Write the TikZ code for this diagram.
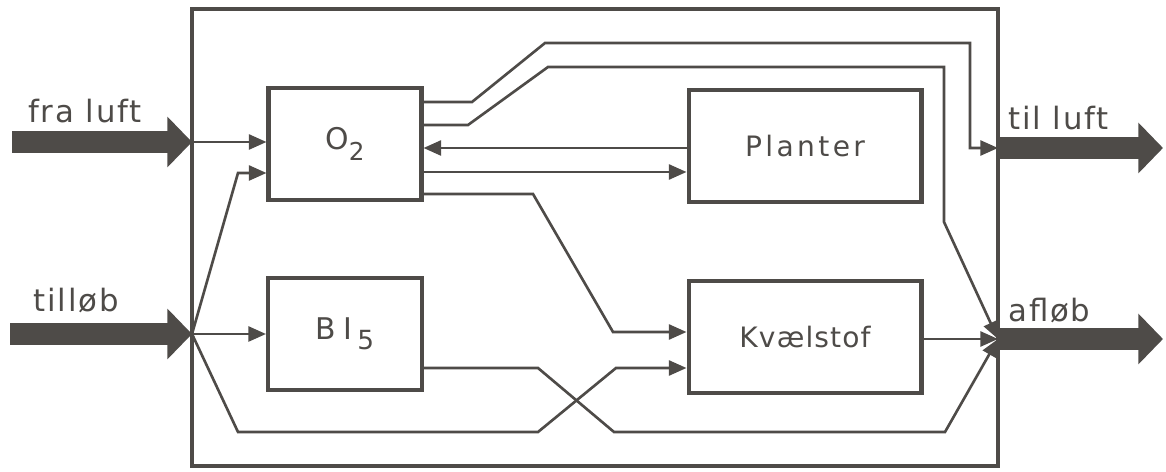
\documentclass[tikz,border=0pt]{standalone}
\usepackage{fontspec}
\setmainfont{DejaVu Sans}
\usetikzlibrary{arrows.meta, positioning, calc}
\definecolor{ink}{RGB}{78,75,72}

\begin{document}
\begin{tikzpicture}[x=0.02cm, y=-0.02cm, >={Triangle[length=10pt,width=8.5pt]},
    pool/.style={draw=ink, text=ink, line width=2.3pt, minimum height=2.24cm, inner sep=0pt},
    flow/.style={draw=ink, line width=1.5pt, ->},
    stream/.style={draw=ink, line width=12pt, -{Triangle[length=14pt,width=28pt]}},
    tag/.style={text=ink, anchor=base west, inner sep=0pt,
        font=\fontsize{17.5}{20}\selectfont\addfontfeature{LetterSpace=6}}]
    \useasboundingbox (0,0) rectangle (1166,472);
    % System boundary
    \draw[ink, line width=1.9pt] (192,9) rectangle (998,466);
    \coordinate (fraluft) at (192,142);
    \coordinate (tillob) at (192,334);
    \coordinate (tilluft) at (998,148);
    \coordinate (aflob) at (998,339);
    \coordinate (fraS) at (12,142);
    \coordinate (tillobS) at (10,334);
    \coordinate (tilluftE) at (1163,148);
    \coordinate (aflobE) at (1163,339);
    % Pools
    \node[pool, minimum width=3.06cm, font=\fontsize{17}{20}\selectfont] (o2) at (345,144)
        {O\raisebox{-6pt}{\fontsize{14}{16}\selectfont 2}};
    \node[pool, minimum width=4.66cm, font=\fontsize{16}{19}\selectfont\addfontfeature{LetterSpace=12}] (pl) at (805,146) {Planter};
    \node[pool, minimum width=3.08cm, font=\fontsize{17}{20}\selectfont] (bi) at (345,334)
        {B\hspace{4pt}I\hspace{3pt}\raisebox{-6pt}{\fontsize{15}{17}\selectfont 5}};
    \node[pool, minimum width=4.66cm, font=\fontsize{16}{19}\selectfont\addfontfeature{LetterSpace=4}] (kv) at (805,337) {Kvælstof};
    % In- and outflows
    \draw[stream] (fraS) -- (fraluft);
    \draw[stream] (tillobS) -- (tillob);
    \draw[stream] (tilluft) -- (tilluftE);
    \draw[stream] (aflob) -- (aflobE);
    \node[tag] (lfra) at (28,123) {fra luft};
    \node[tag] (ltillob) at (33,312) {tilløb};
    \node[tag] (ltil) at (1008,130) {til luft};
    \node[tag] (laflob) at (1008,322) {afløb};
    % Inputs
    \draw[flow] (fraluft) -- (o2.west |- fraluft);
    \draw[flow] (tillob) -- (238,173) -- (o2.west |- 0,173);
    \draw[flow] (tillob) -- (bi.west |- tillob);
    \draw[flow] (tillob) -- (238,432) -- (538,432) -- (616,368) -- (kv.west |- 0,368);
    % Exchanges
    \draw[flow] (bi.east |- 0,368) -- (538,368) -- (614,432) -- (945,432) -- (aflob);
    \draw[flow] (o2.east |- 0,102) -- (472,102) -- (545,43) -- (970,43) -- (970,148) -- (tilluft);
    \draw[flow] (o2.east |- 0,125) -- (468,125) -- (548,67) -- (944,67) -- (944,222) -- (aflob);
    \draw[flow] (pl.west |- 0,148) -- (o2.east |- 0,148);
    \draw[flow] (o2.east |- 0,172) -- (pl.west |- 0,172);
    \draw[flow] (o2.east |- 0,194) -- (533,194) -- (613,332) -- (kv.west |- 0,332);
    \draw[flow] (kv.east |- aflob) -- (aflob);
\end{tikzpicture}
\end{document}
